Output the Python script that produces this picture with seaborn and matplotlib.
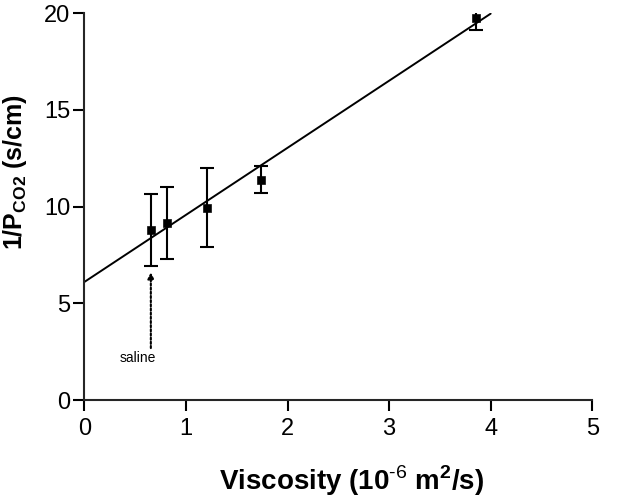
import matplotlib
matplotlib.use("Agg")
import matplotlib.pyplot as plt
import seaborn as sns
import pandas as pd

# measured points
viscosity = [0.654, 0.81, 1.21, 1.734, 3.856]
inv_p = [8.78, 9.16, 9.95, 11.40, 19.77]
err = [1.87, 1.88, 2.03, 0.68, 0.64]

# linear fit drawn from x=0 to x=4
fit_x = [0.0, 4.0]
fit_y = [6.11, 19.97]

# saline annotation
saline_x = 0.654
saline_text_y = 2.55
saline_tip_y = 6.75

sns.set_style("ticks")
plt.rcParams['font.family'] = ['Liberation Sans', 'DejaVu Sans']
plt.rcParams['mathtext.fontset'] = 'custom'
plt.rcParams['mathtext.rm'] = 'Liberation Sans'
plt.rcParams['mathtext.bf'] = 'Liberation Sans:bold'
plt.rcParams['text.color'] = 'black'
plt.rcParams['axes.labelcolor'] = 'black'
plt.rcParams['xtick.color'] = 'black'
plt.rcParams['ytick.color'] = 'black'

fig = plt.figure(figsize=(6.3, 5.04), dpi=100)
ax = fig.add_axes([0.134, 0.206, 0.806, 0.768])

df = pd.DataFrame({"x": viscosity, "y": inv_p})
fit = pd.DataFrame({"x": fit_x, "y": fit_y})

sns.lineplot(data=fit, x="x", y="y", color="black", linewidth=1.4, ax=ax)
ax.errorbar(viscosity, inv_p, yerr=err, fmt="none", ecolor="black",
            elinewidth=1.5, capsize=5, capthick=1.5)
sns.scatterplot(data=df, x="x", y="y", marker="s", s=32, color="black",
                edgecolor="black", ax=ax, zorder=5)

ax.annotate("", xy=(saline_x, saline_tip_y), xytext=(saline_x, saline_text_y),
            arrowprops=dict(arrowstyle="-|>", linestyle=(0, (1, 1)), color="black",
                            lw=1.5, mutation_scale=9))
ax.text(saline_x - 0.13, saline_text_y - 0.35, "saline", fontsize=10,
        ha="center", va="center")

ax.set_xlim(0, 5)
ax.set_ylim(0, 20)
ax.set_xticks([0, 1, 2, 3, 4, 5])
ax.set_yticks([0, 5, 10, 15, 20])
ax.tick_params(labelsize=17, width=1.5, length=8, direction="out")
ax.tick_params(axis="x", pad=5)
ax.tick_params(axis="y", pad=2)
for s in ["left", "bottom"]:
    ax.spines[s].set_linewidth(1.5)
sns.despine(ax=ax)

ax.set_xlabel("Viscosity (10$^{\\text{-6}}$ m$^{\\mathregular{2}}$/s)",
              fontsize=20, fontweight="bold")
ax.xaxis.set_label_coords(0.526, -0.163)
ax.set_ylabel("1/P$_{\\mathregular{CO2}}$ (s/cm)", fontsize=18,
              fontweight="bold")
ax.yaxis.set_label_coords(-0.11, 0.59)

fig.savefig("out.png", dpi=100)
